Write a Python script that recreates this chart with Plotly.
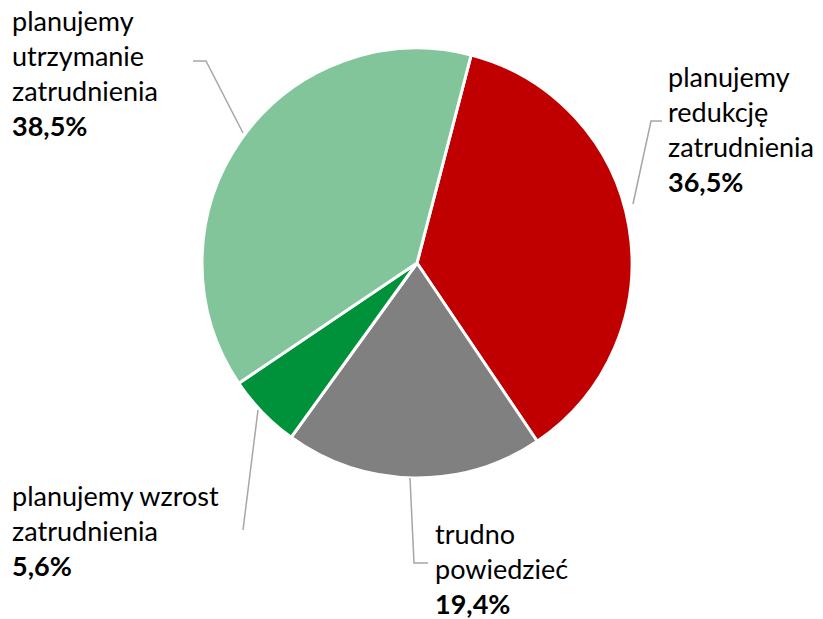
import plotly.graph_objects as go

W, H = 823, 619

categories = ["planujemy redukcję zatrudnienia", "trudno powiedzieć",
              "planujemy wzrost zatrudnienia", "planujemy utrzymanie zatrudnienia"]
values = [36.5, 19.4, 5.6, 38.5]
label_lines = [["planujemy", "redukcję", "zatrudnienia"],
               ["trudno", "powiedzieć"],
               ["planujemy wzrost", "zatrudnienia"],
               ["planujemy", "utrzymanie", "zatrudnienia"]]
colors = ["#C00000", "#808080", "#00923A", "#82C59A"]

FONT = "Lato, 'Open Sans', sans-serif"


def px_x(x):
    return x / W


def px_y(y):
    return 1 - y / H


fig = go.Figure(go.Pie(
    labels=categories, values=values, sort=False, direction="clockwise",
    rotation=14.6, textinfo="none", hoverinfo="label+percent",
    marker=dict(colors=colors, line=dict(color="white", width=3)),
    domain=dict(x=[px_x(202), px_x(632)], y=[px_y(478), px_y(48)]),
))

# label positions (top-left corner, px) and leader line paths (px)
label_pos = [(666, 58), (433, 515), (10, 477), (10, 2)]
leaders = [
    [(662, 121), (651, 121), (633, 204)],
    [(410, 478), (414, 563), (428, 563)],
    [(258, 410), (243, 530)],
    [(193, 61), (206, 61), (243, 133)],
]

for lines, val, (lx, ly) in zip(label_lines, values, label_pos):
    txt = "<br>".join(lines) + "<br><b>" + f"{val:.1f}".replace(".", ",") + "%</b>"
    fig.add_annotation(text=txt, x=px_x(lx), y=px_y(ly), xref="paper", yref="paper",
                       xanchor="left", yanchor="top", align="left", showarrow=False,
                       font=dict(family=FONT, size=27, color="#000000"))

for path in leaders:
    d = "M " + " L ".join(f"{px_x(x)},{px_y(y)}" for x, y in path)
    fig.add_shape(type="path", path=d, xref="paper", yref="paper",
                  line=dict(color="#A6A6A6", width=1.5))

fig.update_layout(width=W, height=H, showlegend=False,
                  margin=dict(l=0, r=0, t=0, b=0),
                  paper_bgcolor="white", plot_bgcolor="white",
                  font=dict(family=FONT))

fig.write_html("out.html", config={"displayModeBar": False},
               post_script="document.body.style.margin='0';")
